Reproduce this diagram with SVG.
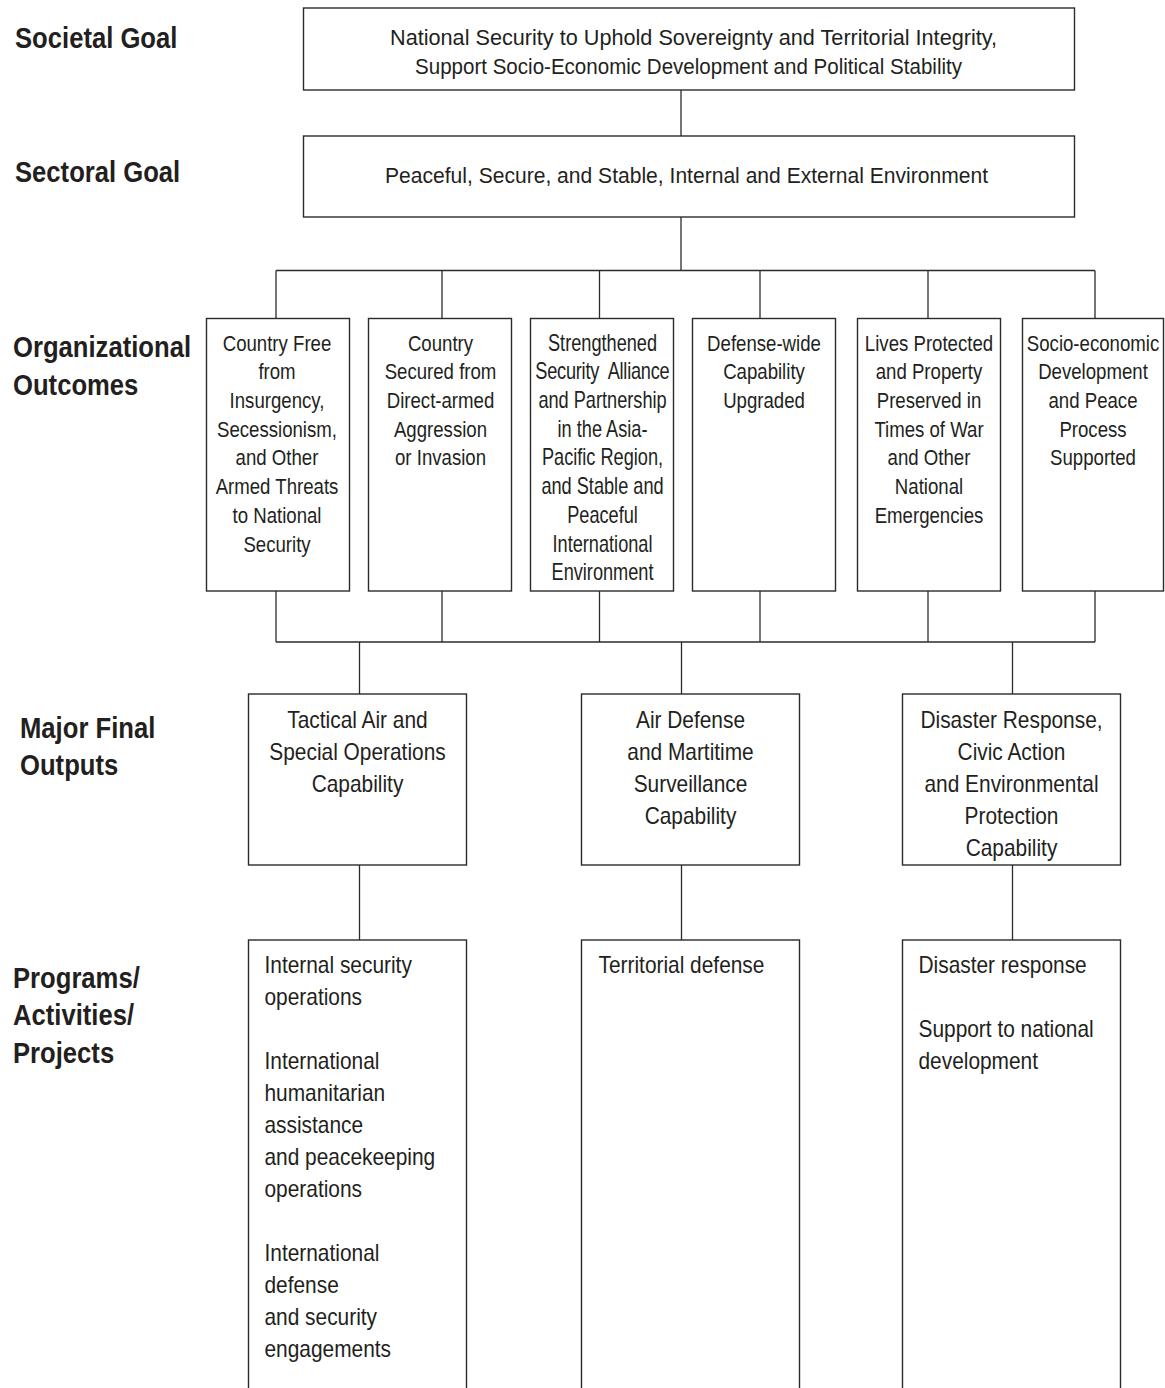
<svg xmlns="http://www.w3.org/2000/svg" width="1165" height="1388" viewBox="0 0 1165 1388">
<style>
.bg{fill:#ffffff}
.box{fill:#ffffff;stroke:#2b2b2b;stroke-width:1.4}
.ln{stroke:#2b2b2b;stroke-width:1.3;fill:none}
.t{font-family:"Liberation Sans",Arial,sans-serif;fill:#231f20}
.lab{font-weight:bold;font-size:30px}
.goal{font-size:22px;text-anchor:middle}
.oc{font-size:23px;text-anchor:middle}
.mfo{font-size:24px;text-anchor:middle}
.pap{font-size:24px}
</style>
<rect class="bg" x="0" y="0" width="1165" height="1388"/>

<g id="labels">
  <g transform="translate(15,0) scale(0.855,1)"><text class="t lab" x="0" y="48.5">Societal Goal</text></g>
  <g transform="translate(15,0) scale(0.855,1)"><text class="t lab" x="0" y="181.7">Sectoral Goal</text></g>
  <g transform="translate(13,0) scale(0.855,1)"><text class="t lab"><tspan x="0" y="357.3">Organizational</tspan><tspan x="0" y="395">Outcomes</tspan></text></g>
  <g transform="translate(20,0) scale(0.855,1)"><text class="t lab"><tspan x="0" y="737.7">Major Final</tspan><tspan x="0" y="775">Outputs</tspan></text></g>
  <g transform="translate(13,0) scale(0.855,1)"><text class="t lab"><tspan x="0" y="988">Programs/</tspan><tspan x="0" y="1025.5">Activities/</tspan><tspan x="0" y="1063">Projects</tspan></text></g>
</g>

<g id="connectors">
  <line class="ln" x1="681" y1="90" x2="681" y2="136"/>
  <line class="ln" x1="681" y1="217" x2="681" y2="270.5"/>
  <line class="ln" x1="276" y1="270.5" x2="1095" y2="270.5"/>
  <line class="ln" x1="276" y1="270.5" x2="276" y2="318.5"/>
  <line class="ln" x1="442" y1="270.5" x2="442" y2="318.5"/>
  <line class="ln" x1="599.5" y1="270.5" x2="599.5" y2="318.5"/>
  <line class="ln" x1="760" y1="270.5" x2="760" y2="318.5"/>
  <line class="ln" x1="928" y1="270.5" x2="928" y2="318.5"/>
  <line class="ln" x1="1095" y1="270.5" x2="1095" y2="318.5"/>
  <line class="ln" x1="276" y1="591" x2="276" y2="642"/>
  <line class="ln" x1="442" y1="591" x2="442" y2="642"/>
  <line class="ln" x1="599.5" y1="591" x2="599.5" y2="642"/>
  <line class="ln" x1="760" y1="591" x2="760" y2="642"/>
  <line class="ln" x1="928" y1="591" x2="928" y2="642"/>
  <line class="ln" x1="1095" y1="591" x2="1095" y2="642"/>
  <line class="ln" x1="276" y1="642" x2="1095" y2="642"/>
  <line class="ln" x1="359.5" y1="642" x2="359.5" y2="694"/>
  <line class="ln" x1="681.5" y1="642" x2="681.5" y2="694"/>
  <line class="ln" x1="1012.5" y1="642" x2="1012.5" y2="694"/>
  <line class="ln" x1="359.5" y1="865" x2="359.5" y2="940"/>
  <line class="ln" x1="681.5" y1="865" x2="681.5" y2="940"/>
  <line class="ln" x1="1012.5" y1="865" x2="1012.5" y2="940"/>
</g>

<g id="societal-goal">
  <rect class="box" x="303.5" y="8" width="771" height="82"/>
  <text class="t goal"><tspan x="693.5" y="44.5" textLength="607" lengthAdjust="spacingAndGlyphs">National Security to Uphold Sovereignty and Territorial Integrity,</tspan><tspan x="688.5" y="73.5" textLength="547" lengthAdjust="spacingAndGlyphs">Support Socio-Economic Development and Political Stability</tspan></text>
</g>

<g id="sectoral-goal">
  <rect class="box" x="303.5" y="136" width="771" height="81"/>
  <text class="t goal" x="686.5" y="183" textLength="603" lengthAdjust="spacingAndGlyphs">Peaceful, Secure, and Stable, Internal and External Environment</text>
</g>

<g id="outcome-1">
  <rect class="box" x="206.5" y="318.5" width="143" height="272.5"/>
  <g transform="translate(277,0) scale(0.81,1)"><text class="t oc">
    <tspan x="0" y="350.7">Country Free</tspan><tspan x="0" y="379.4">from</tspan><tspan x="0" y="408.1">Insurgency,</tspan><tspan x="0" y="436.8">Secessionism,</tspan><tspan x="0" y="465.5">and Other</tspan><tspan x="0" y="494.2">Armed Threats</tspan><tspan x="0" y="522.9">to National</tspan><tspan x="0" y="551.6">Security</tspan>
  </text></g>
</g>

<g id="outcome-2">
  <rect class="box" x="368.5" y="318.5" width="143" height="272.5"/>
  <g transform="translate(440.5,0) scale(0.81,1)"><text class="t oc">
    <tspan x="0" y="350.7">Country</tspan><tspan x="0" y="379.4">Secured from</tspan><tspan x="0" y="408.1">Direct-armed</tspan><tspan x="0" y="436.8">Aggression</tspan><tspan x="0" y="465.5">or Invasion</tspan>
  </text></g>
</g>

<g id="outcome-3">
  <rect class="box" x="530.5" y="318.5" width="143" height="272.5"/>
  <g transform="translate(602.5,0) scale(0.79,1)"><text class="t oc" xml:space="preserve"><tspan x="0" y="350.7">Strengthened</tspan><tspan x="0" y="379.4" textLength="170" lengthAdjust="spacing">Security  Alliance</tspan><tspan x="0" y="408.1">and Partnership</tspan><tspan x="0" y="436.8">in the Asia-</tspan><tspan x="0" y="465.5">Pacific Region,</tspan><tspan x="0" y="494.2">and Stable and</tspan><tspan x="0" y="522.9">Peaceful</tspan><tspan x="0" y="551.6">International</tspan><tspan x="0" y="580.3">Environment</tspan></text></g>
</g>

<g id="outcome-4">
  <rect class="box" x="692.5" y="318.5" width="143" height="272.5"/>
  <g transform="translate(764,0) scale(0.81,1)"><text class="t oc">
    <tspan x="0" y="350.7">Defense-wide</tspan><tspan x="0" y="379.4">Capability</tspan><tspan x="0" y="408.1">Upgraded</tspan>
  </text></g>
</g>

<g id="outcome-5">
  <rect class="box" x="857.5" y="318.5" width="143" height="272.5"/>
  <g transform="translate(929,0) scale(0.81,1)"><text class="t oc">
    <tspan x="0" y="350.7">Lives Protected</tspan><tspan x="0" y="379.4">and Property</tspan><tspan x="0" y="408.1">Preserved in</tspan><tspan x="0" y="436.8">Times of War</tspan><tspan x="0" y="465.5">and Other</tspan><tspan x="0" y="494.2">National</tspan><tspan x="0" y="522.9">Emergencies</tspan>
  </text></g>
</g>

<g id="outcome-6">
  <rect class="box" x="1022.5" y="318.5" width="141" height="272.5"/>
  <g transform="translate(1093,0) scale(0.81,1)"><text class="t oc">
    <tspan x="0" y="350.7">Socio-economic</tspan><tspan x="0" y="379.4">Development</tspan><tspan x="0" y="408.1">and Peace</tspan><tspan x="0" y="436.8">Process</tspan><tspan x="0" y="465.5">Supported</tspan>
  </text></g>
</g>

<g id="mfo-1">
  <rect class="box" x="248.5" y="694" width="218" height="171"/>
  <g transform="translate(357.5,0) scale(0.87,1)"><text class="t mfo">
    <tspan x="0" y="728">Tactical Air and</tspan><tspan x="0" y="760">Special Operations</tspan><tspan x="0" y="792">Capability</tspan>
  </text></g>
</g>

<g id="mfo-2">
  <rect class="box" x="581.5" y="694" width="218" height="171"/>
  <g transform="translate(690.5,0) scale(0.87,1)"><text class="t mfo">
    <tspan x="0" y="728">Air Defense</tspan><tspan x="0" y="760">and Martitime</tspan><tspan x="0" y="792">Surveillance</tspan><tspan x="0" y="824">Capability</tspan>
  </text></g>
</g>

<g id="mfo-3">
  <rect class="box" x="902.5" y="694" width="218" height="171"/>
  <g transform="translate(1011.5,0) scale(0.87,1)"><text class="t mfo">
    <tspan x="0" y="728">Disaster Response,</tspan><tspan x="0" y="760">Civic Action</tspan><tspan x="0" y="792">and Environmental</tspan><tspan x="0" y="824">Protection</tspan><tspan x="0" y="856">Capability</tspan>
  </text></g>
</g>

<g id="pap-1">
  <rect class="box" x="248.5" y="940" width="218" height="460"/>
  <g transform="translate(264.5,0) scale(0.87,1)"><text class="t pap">
    <tspan x="0" y="973.5">Internal security</tspan><tspan x="0" y="1005.5">operations</tspan>
    <tspan x="0" y="1069.5">International</tspan><tspan x="0" y="1101.5">humanitarian</tspan><tspan x="0" y="1133.5">assistance</tspan><tspan x="0" y="1165.5">and peacekeeping</tspan><tspan x="0" y="1197.5">operations</tspan>
    <tspan x="0" y="1261.5">International</tspan><tspan x="0" y="1293.5">defense</tspan><tspan x="0" y="1325.5">and security</tspan><tspan x="0" y="1357.5">engagements</tspan>
  </text></g>
</g>

<g id="pap-2">
  <rect class="box" x="581.5" y="940" width="218" height="460"/>
  <g transform="translate(598.5,0) scale(0.87,1)"><text class="t pap" x="0" y="973.5">Territorial defense</text></g>
</g>

<g id="pap-3">
  <rect class="box" x="902.5" y="940" width="218" height="460"/>
  <g transform="translate(918.5,0) scale(0.87,1)"><text class="t pap">
    <tspan x="0" y="973.5">Disaster response</tspan><tspan x="0" y="1037.5">Support to national</tspan><tspan x="0" y="1069.5">development</tspan>
  </text></g>
</g>
</svg>
